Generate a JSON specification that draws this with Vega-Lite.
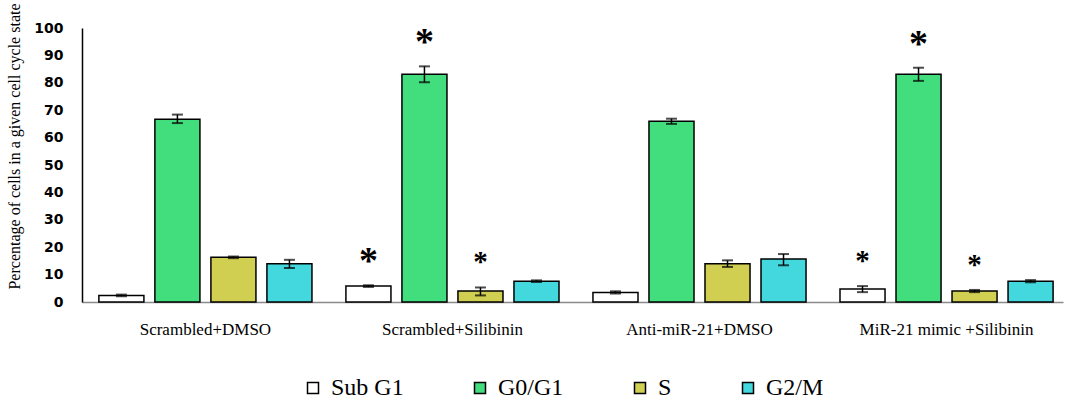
{
  "$schema": "https://vega.github.io/schema/vega-lite/v6.json",
  "width": 981,
  "height": 274,
  "autosize": {"type": "none"},
  "padding": {"left": 82, "top": 28, "right": 5, "bottom": 98},
  "background": "white",
  "config": {
    "view": {"stroke": null},
    "axisY": {
      "labelOverlap": false, "grid": false, "ticks": false,
      "labelFont": "DejaVu Sans", "labelFontWeight": "bold", "labelFontSize": 14,
      "labelColor": "black", "labelPadding": 19,
      "domainColor": "black", "domainWidth": 1.5,
      "titleFont": "Liberation Serif", "titleFontSize": 16, "titleFontWeight": "normal",
      "titleColor": "black", "titleX": -63, "titleY": 118, "titleAngle": -90,
      "titleAlign": "center", "titleBaseline": "alphabetic"
    },
    "legend": {
      "labelFont": "Liberation Serif", "labelFontSize": 24, "labelColor": "black",
      "symbolType": "square", "symbolSize": 121, "symbolStrokeColor": "black", "symbolStrokeWidth": 1.5,
      "labelOffset": 6, "columnPadding": 64, "padding": 0, "labelLimit": 300
    }
  },
  "data": {
    "values": [
      {"group": "Scrambled+DMSO", "phase": "Sub G1", "mean": 2.4, "lo": 2.1, "hi": 2.7, "star": ""},
      {"group": "Scrambled+DMSO", "phase": "G0/G1", "mean": 66.7, "lo": 65.3, "hi": 68.4, "star": ""},
      {"group": "Scrambled+DMSO", "phase": "S", "mean": 16.3, "lo": 16.0, "hi": 16.6, "star": ""},
      {"group": "Scrambled+DMSO", "phase": "G2/M", "mean": 14.0, "lo": 12.4, "hi": 15.4, "star": ""},
      {"group": "Scrambled+Silibinin", "phase": "Sub G1", "mean": 5.8, "lo": 5.5, "hi": 6.1, "star": "big"},
      {"group": "Scrambled+Silibinin", "phase": "G0/G1", "mean": 83.1, "lo": 80.2, "hi": 86.0, "star": "big"},
      {"group": "Scrambled+Silibinin", "phase": "S", "mean": 4.0, "lo": 2.4, "hi": 5.3, "star": "small"},
      {"group": "Scrambled+Silibinin", "phase": "G2/M", "mean": 7.6, "lo": 7.3, "hi": 7.9, "star": ""},
      {"group": "Anti-miR-21+DMSO", "phase": "Sub G1", "mean": 3.5, "lo": 3.1, "hi": 3.9, "star": ""},
      {"group": "Anti-miR-21+DMSO", "phase": "G0/G1", "mean": 66.0, "lo": 65.0, "hi": 66.9, "star": ""},
      {"group": "Anti-miR-21+DMSO", "phase": "S", "mean": 14.0, "lo": 12.8, "hi": 15.2, "star": ""},
      {"group": "Anti-miR-21+DMSO", "phase": "G2/M", "mean": 15.7, "lo": 13.4, "hi": 17.5, "star": ""},
      {"group": "MiR-21 mimic +Silibinin", "phase": "Sub G1", "mean": 4.7, "lo": 3.6, "hi": 5.8, "star": "small"},
      {"group": "MiR-21 mimic +Silibinin", "phase": "G0/G1", "mean": 83.1, "lo": 80.7, "hi": 85.5, "star": "big"},
      {"group": "MiR-21 mimic +Silibinin", "phase": "S", "mean": 4.0, "lo": 3.6, "hi": 4.4, "star": "small"},
      {"group": "MiR-21 mimic +Silibinin", "phase": "G2/M", "mean": 7.6, "lo": 7.2, "hi": 8.0, "star": ""}
    ]
  },
  "encoding": {
    "x": {
      "field": "group", "type": "nominal",
      "sort": ["Scrambled+DMSO", "Scrambled+Silibinin", "Anti-miR-21+DMSO", "MiR-21 mimic +Silibinin"],
      "scale": {"paddingInner": 0.093, "paddingOuter": 0.032, "align": 0.72},
      "axis": {
        "title": null, "ticks": false, "labelAngle": 0,
        "labelFont": "Liberation Serif", "labelFontSize": 17, "labelColor": "black",
        "labelPadding": 19, "domainColor": "#8a8a8a", "domainWidth": 1.5
      }
    },
    "xOffset": {
      "field": "phase", "type": "nominal",
      "sort": ["Sub G1", "G0/G1", "S", "G2/M"],
      "scale": {"paddingInner": 0.196, "paddingOuter": 0.098}
    }
  },
  "layer": [
    {
      "mark": {"type": "bar", "stroke": "black", "strokeWidth": 1.5},
      "encoding": {
        "y": {
          "field": "mean", "type": "quantitative",
          "scale": {"domain": [0, 100], "nice": false},
          "axis": {"values": [0, 10, 20, 30, 40, 50, 60, 70, 80, 90, 100], "title": "Percentage of cells in a given cell cycle state"}
        },
        "fill": {
          "field": "phase", "type": "nominal",
          "sort": ["Sub G1", "G0/G1", "S", "G2/M"],
          "scale": {"domain": ["Sub G1", "G0/G1", "S", "G2/M"], "range": ["#ffffff", "#42de7e", "#d0cf52", "#42d8de"]},
          "legend": {
            "title": null, "orient": "none", "direction": "horizontal",
            "legendX": 219, "legendY": 348
          }
        }
      }
    },
    {
      "mark": {"type": "rule", "color": "black", "strokeWidth": 1.5},
      "encoding": {
        "y": {"field": "lo", "type": "quantitative", "axis": {"values": [0, 10, 20, 30, 40, 50, 60, 70, 80, 90, 100], "title": "Percentage of cells in a given cell cycle state"}},
        "y2": {"field": "hi"}
      }
    },
    {
      "mark": {"type": "tick", "color": "black", "size": 11, "thickness": 2},
      "encoding": {"y": {"field": "lo", "type": "quantitative", "axis": {"values": [0, 10, 20, 30, 40, 50, 60, 70, 80, 90, 100], "title": "Percentage of cells in a given cell cycle state"}}}
    },
    {
      "mark": {"type": "tick", "color": "black", "size": 11, "thickness": 2},
      "encoding": {"y": {"field": "hi", "type": "quantitative", "axis": {"values": [0, 10, 20, 30, 40, 50, 60, 70, 80, 90, 100], "title": "Percentage of cells in a given cell cycle state"}}}
    },
    {
      "transform": [{"filter": "datum.star == 'big'"}],
      "mark": {"type": "text", "text": "*", "font": "Liberation Serif", "fontWeight": "bold", "fontSize": 38, "baseline": "middle", "dy": -23, "color": "black"},
      "encoding": {"y": {"field": "hi", "type": "quantitative", "axis": {"values": [0, 10, 20, 30, 40, 50, 60, 70, 80, 90, 100], "title": "Percentage of cells in a given cell cycle state"}}}
    },
    {
      "transform": [{"filter": "datum.star == 'small'"}],
      "mark": {"type": "text", "text": "*", "font": "Liberation Serif", "fontWeight": "bold", "fontSize": 29, "baseline": "middle", "dy": -25, "color": "black"},
      "encoding": {"y": {"field": "hi", "type": "quantitative", "axis": {"values": [0, 10, 20, 30, 40, 50, 60, 70, 80, 90, 100], "title": "Percentage of cells in a given cell cycle state"}}}
    }
  ]
}
